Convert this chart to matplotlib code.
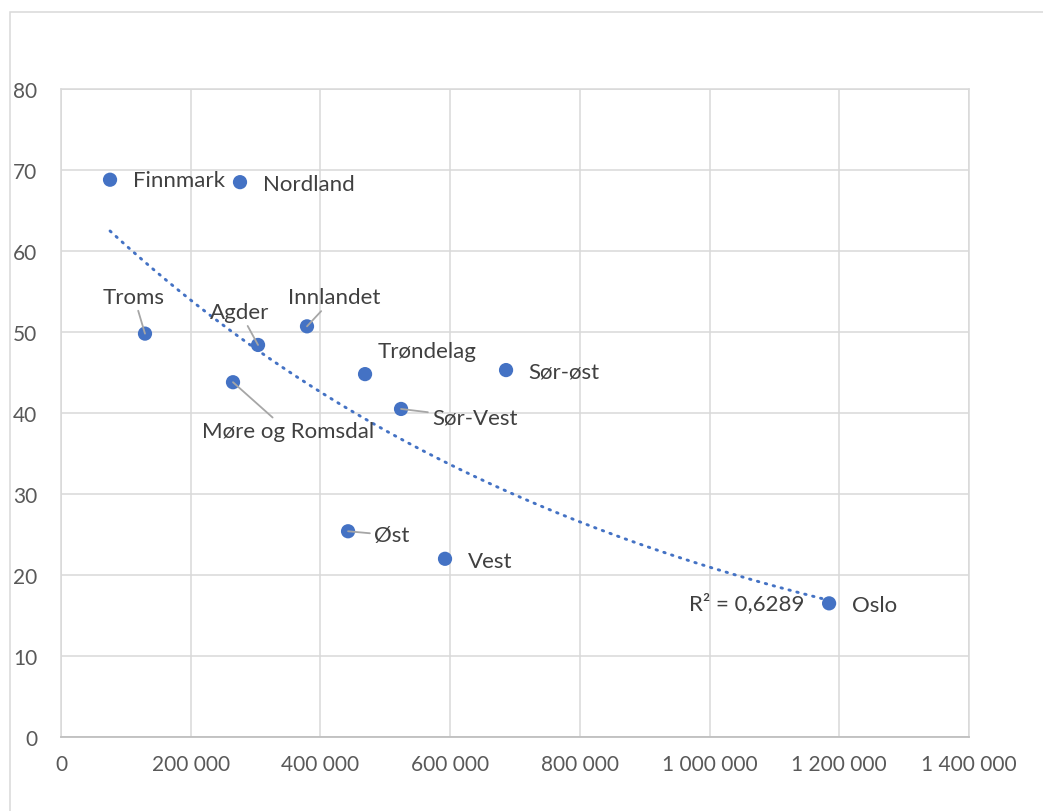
import matplotlib
matplotlib.use("Agg")
import matplotlib.pyplot as plt
import numpy as np
from matplotlib.patches import Rectangle
from matplotlib.ticker import FuncFormatter, MultipleLocator

plt.rcParams['font.family'] = ['Lato', 'DejaVu Sans']

# ------------------------------------------------ #
# ------------------ data ------------------------ #
# ------------------------------------------------ #
regions = ['Finnmark', 'Nordland', 'Troms', 'Agder', 'Innlandet', 'Møre og Romsdal',
           'Trøndelag', 'Sør-øst', 'Sør-Vest', 'Øst', 'Vest', 'Oslo']
x_vals = [75600, 276000, 129500, 303800, 379300, 265200,
          468800, 686200, 524300, 442600, 592100, 1184300]
y_vals = [68.8, 68.5, 49.8, 48.4, 50.7, 43.8,
          44.8, 45.3, 40.5, 25.4, 22.0, 16.5]
r2_text = 'R² = 0,6289'

# label offsets in pixels (dx, dy), alignment, leader line
label_style = {
    'Finnmark':        (23, 0, 'left', False),
    'Nordland':        (23, -2, 'left', False),
    'Troms':           (-11, 37, 'center', True),
    'Agder':           (-18, 33, 'center', True),
    'Innlandet':       (27, 29, 'center', True),
    'Møre og Romsdal': (55, -49, 'center', True),
    'Trøndelag':       (62, 23, 'center', False),
    'Sør-øst':         (22, -1, 'left', False),
    'Sør-Vest':        (31, -9, 'left', True),
    'Øst':             (26, -4, 'left', True),
    'Vest':            (23, -2, 'left', False),
    'Oslo':            (23, -2, 'left', False),
}

blue = '#4472C4'
grid_c = '#d9d9d9'
tick_c = '#595959'
lab_c = '#404040'

# ------------------------------------------------ #
# ------------------ figure ---------------------- #
# ------------------------------------------------ #
fig = plt.figure(figsize=(10.43, 8.12), dpi=100)
ax = fig.add_axes([61/1043, 74/812, 908/1043, 648/812])

# outer chart border
fig.patches.append(Rectangle((10/1043, -0.1), 1.2, 1 - 13/812 + 0.1, transform=fig.transFigure,
                             fill=False, edgecolor=grid_c, linewidth=1.1))

# exponential trendline (least squares on ln y)
xs = np.array(x_vals, dtype=float)
ys = np.array(y_vals, dtype=float)
b, ln_a = np.polyfit(xs, np.log(ys), 1)
xt = np.linspace(xs.min(), xs.max(), 300)
ax.plot(xt, np.exp(ln_a) * np.exp(b * xt), color=blue, linewidth=2.1,
        linestyle=(0, (0.5, 2.3)), dash_capstyle='round', zorder=2)

ax.scatter(xs, ys, s=105, color=blue, edgecolors='none', zorder=3)

for name, xv, yv in zip(regions, x_vals, y_vals):
    dx, dy, ha, leader = label_style[name]
    arrow = None
    if leader:
        arrow = dict(arrowstyle='-', color='#a6a6a6', linewidth=1.3, shrinkA=1, shrinkB=0)
    ax.annotate(name, (xv, yv), xytext=(dx, dy), textcoords='offset pixels',
                ha=ha, va='center', fontsize=16, color=lab_c, arrowprops=arrow, zorder=4)

ax.annotate(r2_text, (x_vals[-1], y_vals[-1]), xytext=(-25, 1), textcoords='offset pixels',
            ha='right', va='center', fontsize=16, color=lab_c, zorder=4)

ax.set_xlim(0, 1400000)
ax.set_ylim(0, 80)
ax.xaxis.set_major_locator(MultipleLocator(200000))
ax.yaxis.set_major_locator(MultipleLocator(10))
ax.xaxis.set_major_formatter(FuncFormatter(lambda v, p: f"{int(v):,}".replace(",", " ")))
ax.grid(True, color=grid_c, linewidth=1.1, zorder=0)
ax.set_axisbelow(True)
ax.tick_params(length=0, labelsize=15, labelcolor=tick_c)
ax.tick_params(axis='x', pad=12)
ax.tick_params(axis='y', pad=17)
for s in ['left', 'top', 'right']:
    ax.spines[s].set_color(grid_c)
    ax.spines[s].set_linewidth(1.1)
ax.spines['bottom'].set_color('#bfbfbf')
ax.spines['bottom'].set_linewidth(1.3)

fig.savefig('out.png', dpi=100)
